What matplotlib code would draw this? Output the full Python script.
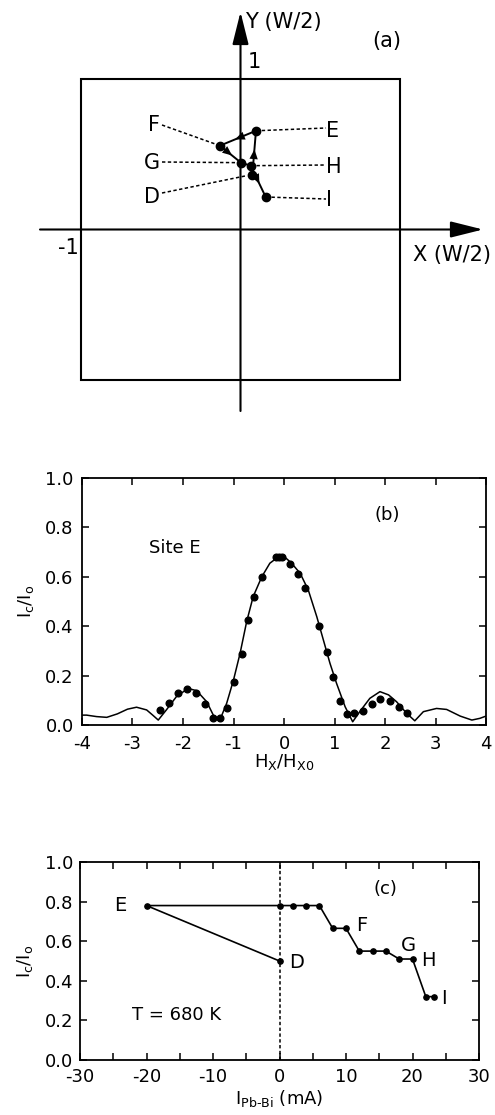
import matplotlib
matplotlib.use("Agg")
import matplotlib.pyplot as plt
from matplotlib.patches import Rectangle

plt.rcParams['font.family'] = ['DejaVu Sans']
plt.rcParams['mathtext.fontset'] = 'dejavusans'

# ---------------- data ----------------
# panel (a): positions of sites in units of W/2
site_names = ['D', 'E', 'F', 'G', 'H', 'I']
site_x = [0.074, 0.097, -0.129, 0.003, 0.064, 0.158]
site_y = [0.362, 0.656, 0.557, 0.444, 0.424, 0.216]

# panel (b): theory curve and measured points for site E
curve_h = [-4.0, -3.91, -3.71, -3.51, -3.3, -3.1, -2.92, -2.72, -2.6, -2.49,
           -2.33, -2.13, -1.9, -1.73, -1.53, -1.4, -1.28, -1.135, -1.0, -0.87,
           -0.74, -0.61, -0.44, -0.28, -0.11, 0.02, 0.15, 0.32, 0.48, 0.65,
           0.78, 0.91, 1.04, 1.21, 1.36, 1.5, 1.7, 1.9, 2.07, 2.23, 2.43,
           2.59, 2.76, 3.02, 3.22, 3.49, 3.72, 3.88, 4.0]
curve_ic = [0.040, 0.040, 0.034, 0.031, 0.045, 0.064, 0.072, 0.061, 0.040, 0.020,
            0.061, 0.115, 0.148, 0.139, 0.094, 0.040, 0.015, 0.088, 0.182, 0.290,
            0.418, 0.520, 0.600, 0.655, 0.681, 0.679, 0.655, 0.614, 0.547, 0.438,
            0.344, 0.250, 0.169, 0.074, 0.013, 0.054, 0.108, 0.135, 0.122, 0.094, 0.047,
            0.017, 0.054, 0.067, 0.063, 0.036, 0.020, 0.027, 0.036]

meas_h = [-2.46, -2.27, -2.09, -1.93, -1.74, -1.56, -1.40, -1.27, -1.12, -0.99,
          -0.84, -0.71, -0.59, -0.44, -0.16, -0.10, -0.03, 0.12, 0.28, 0.42,
          0.69, 0.85, 0.98, 1.11, 1.25, 1.39, 1.56, 1.74, 1.90, 2.09, 2.27, 2.43]
meas_ic = [0.061, 0.088, 0.128, 0.144, 0.128, 0.085, 0.030, 0.030, 0.067, 0.175,
           0.286, 0.425, 0.520, 0.598, 0.679, 0.681, 0.679, 0.652, 0.610, 0.556,
           0.400, 0.297, 0.196, 0.098, 0.045, 0.047, 0.057, 0.085, 0.104, 0.098,
           0.072, 0.047]

# panel (c): Ic/Io vs Pb-Bi current
ipb = [0, -20, 0, 2, 4, 6, 8, 10, 12, 14, 16, 18, 20, 22, 23.2]
ic_c = [0.50, 0.78, 0.78, 0.78, 0.78, 0.78, 0.665, 0.665, 0.55, 0.55, 0.55,
        0.51, 0.51, 0.32, 0.32]
c_labels = ['E', 'D', 'F', 'G', 'H', 'I']
c_label_x = [-23.9, 2.6, 12.3, 19.4, 22.4, 24.8]
c_label_y = [0.78, 0.49, 0.68, 0.58, 0.50, 0.31]

b_xticks = [-4, -3, -2, -1, 0, 1, 2, 3, 4]
y_ticks = [0.0, 0.2, 0.4, 0.6, 0.8, 1.0]
c_xticks = [-30, -20, -10, 0, 10, 20, 30]

# ---------------- figure ----------------
W, H = 495, 1115
fig = plt.figure(figsize=(W / 100, H / 100), dpi=100)

FS = 13        # tick labels / panel text
FSA = 15       # panel (a) labels

# ---- panel (a) ----
axa = fig.add_axes([0, 1 - 420 / H, 1, 420 / H])
cx, cy, sx, sy = 240.5, 229.5, 159.5, 150.5
axa.set_xlim((0 - cx) / sx, (W - cx) / sx)
axa.set_ylim((cy - 420) / sy, (cy - 0) / sy)
axa.axis('off')

def px(x):
    return (x - cx) / sx

def py(y):
    return (cy - y) / sy

axa.add_patch(Rectangle((-1, -1), 2, 2, fill=False, lw=1.5, ec='black'))
arrow_style = '-|>,head_length=1.0,head_width=0.25'
axa.annotate('', xy=(px(483), 0), xytext=(px(40), 0),
             arrowprops=dict(arrowstyle=arrow_style, mutation_scale=20, lw=1.5,
                             color='black', shrinkA=0, shrinkB=0))
axa.annotate('', xy=(0, py(12)), xytext=(0, py(411)),
             arrowprops=dict(arrowstyle=arrow_style, mutation_scale=20, lw=1.5,
                             color='black', shrinkA=0, shrinkB=0))

pos = {n: (x, y) for n, x, y in zip(site_names, site_x, site_y)}
order = ['D', 'E', 'F', 'G', 'H', 'I']
for a, b in zip(order[:-1], order[1:]):
    (x0, y0), (x1, y1) = pos[a], pos[b]
    axa.plot([x0, x1], [y0, y1], color='black', lw=1.4)
    if a != 'G':
        mx, my = x0 + 0.58 * (x1 - x0), y0 + 0.58 * (y1 - y0)
        bx, by = x0 + 0.40 * (x1 - x0), y0 + 0.40 * (y1 - y0)
        axa.annotate('', xy=(mx, my), xytext=(bx, by),
                     arrowprops=dict(arrowstyle='-|>,head_length=0.7,head_width=0.3',
                                     mutation_scale=10, lw=0, color='black',
                                     shrinkA=0, shrinkB=0))
axa.plot(site_x, site_y, 'o', color='black', ms=6)

# dashed leader lines and labels
left_end = px(162)
right_end = px(326)
leaders = {
    'F': ((left_end, py(125)), pos['F']),
    'G': ((left_end, py(162)), pos['G']),
    'D': ((left_end, py(193)), (px(245), py(176))),
    'E': (pos['E'], (right_end, py(128))),
    'H': (pos['H'], (right_end, py(165))),
    'I': (pos['I'], (right_end, py(199))),
}
for n, ((x0, y0), (x1, y1)) in leaders.items():
    axa.plot([x0, x1], [y0, y1], ls=(0, (2.2, 1.6)), color='black', lw=1.1)

for n, yy in [('F', 125), ('G', 163), ('D', 197)]:
    axa.text(px(160), py(yy), n, ha='right', va='center', fontsize=FSA)
for n, yy in [('E', 131), ('H', 167), ('I', 200)]:
    axa.text(px(326), py(yy), n, ha='left', va='center', fontsize=FSA)

axa.text(px(245), py(22), 'Y (W/2)', ha='left', va='center', fontsize=FSA)
axa.text(px(413), py(255), 'X (W/2)', ha='left', va='center', fontsize=FSA)
axa.text(px(387), py(41), '(a)', ha='center', va='center', fontsize=FSA)
axa.text(px(254), py(62), '1', ha='center', va='center', fontsize=FSA)
axa.text(px(68), py(248), '-1', ha='center', va='center', fontsize=FSA)

# ---- helper for framed panels ----
def style(ax):
    for s in ax.spines.values():
        s.set_linewidth(1.3)
    ax.tick_params(direction='in', length=5, width=1.1, top=True, right=True,
                   labelsize=FS)

# ---- panel (b) ----
axb = fig.add_axes([82 / W, 1 - 725 / H, 404 / W, 247 / H])
axb.plot(curve_h, curve_ic, color='black', lw=1.1)
axb.plot(meas_h, meas_ic, 'o', color='black', ms=4.8)
axb.set_xlim(-4, 4)
axb.set_ylim(0, 1)
axb.set_xticks(b_xticks)
axb.set_xticklabels([str(t) for t in b_xticks])
axb.set_yticks(y_ticks)
axb.set_yticklabels([f'{t:.1f}' for t in y_ticks])
style(axb)
axb.tick_params(axis='x', pad=7)
axb.tick_params(axis='y', pad=6)
axb.set_xlabel(r'$\mathregular{H_X/H_{X0}}$', fontsize=FS)
axb.xaxis.set_label_coords(0.5, -0.11)
axb.set_ylabel(r'$\mathregular{I_c/I_o}$', fontsize=FS)
axb.yaxis.set_label_coords(-0.115, 0.5)
axb.text(-2.16, 0.717, 'Site E', ha='center', va='center', fontsize=FS)
axb.text(2.04, 0.85, '(b)', ha='center', va='center', fontsize=FS)

# ---- panel (c) ----
axc = fig.add_axes([80 / W, 1 - 1060 / H, 399 / W, 198 / H])
axc.axvline(0, color='black', ls=(0, (2.2, 1.6)), lw=1.1)
axc.plot(ipb, ic_c, '-o', color='black', lw=1.2, ms=3.8)
axc.set_xlim(-30, 30)
axc.set_ylim(0, 1)
axc.set_xticks(c_xticks)
axc.set_xticklabels([str(t) for t in c_xticks])
axc.set_xticks(range(-25, 30, 10), minor=True)
axc.set_yticks(y_ticks)
axc.set_yticklabels([f'{t:.1f}' for t in y_ticks])
style(axc)
axc.tick_params(which='minor', direction='in', length=5, width=1.1, top=True)
axc.tick_params(axis='x', pad=6)
axc.tick_params(axis='y', pad=5)
axc.set_xlabel(r'$\mathregular{I_{Pb\text{-}Bi}}$ (mA)', fontsize=FS)
axc.xaxis.set_label_coords(0.5, -0.14)
axc.set_ylabel(r'$\mathregular{I_c/I_o}$', fontsize=FS)
axc.yaxis.set_label_coords(-0.113, 0.5)
for t, x, y in zip(c_labels, c_label_x, c_label_y):
    axc.text(x, y, t, ha='center', va='center', fontsize=FS + 1)
axc.text(15.9, 0.866, '(c)', ha='center', va='center', fontsize=FS)
axc.text(-15.5, 0.227, 'T = 680 K', ha='center', va='center', fontsize=FS)

fig.savefig('out.png', dpi=100)
